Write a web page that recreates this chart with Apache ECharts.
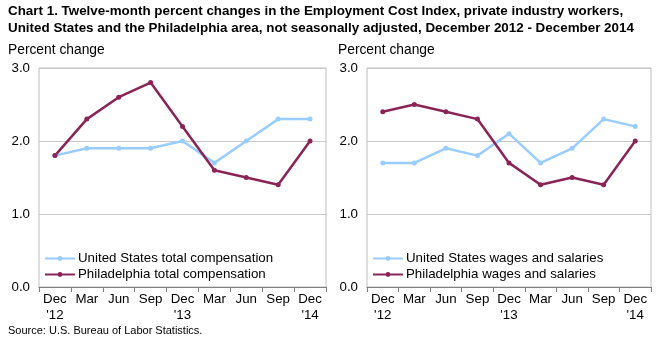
<!DOCTYPE html>
<html><head><meta charset="utf-8">
<script src="https://cdn.jsdelivr.net/npm/echarts@6/dist/echarts.min.js"></script>
<style>html,body{margin:0;padding:0;background:#fff}#c{width:656px;height:344px}</style>
</head><body><div id="c"></div>
<script>
const categories = ["Dec\n'12","Mar","Jun","Sep","Dec\n'13","Mar","Jun","Sep","Dec\n'14"];
const usTotal = [1.8,1.9,1.9,1.9,2.0,1.7,2.0,2.3,2.3];
const phTotal = [1.8,2.3,2.6,2.8,2.2,1.6,1.5,1.4,2.0];
const usWages = [1.7,1.7,1.9,1.8,2.1,1.7,1.9,2.3,2.2];
const phWages = [2.4,2.5,2.4,2.3,1.7,1.4,1.5,1.4,2.0];
const yTicks = [0,1,2,3];

const BLUE = '#99CCFF', MAROON = '#8B2456';
const font = 'Arial, "Liberation Sans", sans-serif';
const FS = 13.3;
const chart = echarts.init(document.getElementById('c'));

function xAxis(i){return {type:'category',gridIndex:i,data:categories,boundaryGap:true,
  axisLine:{lineStyle:{color:'#7F7F7F',width:1}},
  axisTick:{show:true,alignWithLabel:false,length:5,lineStyle:{color:'#7F7F7F'}},
  axisLabel:{interval:0,color:'#000',fontSize:FS,fontFamily:font,lineHeight:16,margin:4}};}
function yAxis(i){return {type:'value',gridIndex:i,min:0,max:3,interval:1,
  axisLine:{show:false},axisTick:{show:false},
  axisLabel:{color:'#000',fontSize:FS,fontFamily:font,margin:9,formatter:v=>v.toFixed(1)},
  splitLine:{lineStyle:{color:'#C8C8C8',width:1}}};}
function line(name,data,color,i){return {name,type:'line',xAxisIndex:i,yAxisIndex:i,data,
  symbol:'circle',symbolSize:5,lineStyle:{color,width:2.5},itemStyle:{color},animation:false};}

const legendText = {fontSize:FS,fontFamily:font,color:'#000',padding:[0,0,0,-2]};
chart.setOption({
  animation:false,
  grid:[{left:39,right:330,top:68,height:219,show:true,borderColor:'#BFBFBF',borderWidth:1},
        {left:367,right:5,top:68,height:219,show:true,borderColor:'#BFBFBF',borderWidth:1}],
  xAxis:[xAxis(0),xAxis(1)],
  yAxis:[yAxis(0),yAxis(1)],
  legend:[
    {orient:'vertical',left:39,top:247,itemWidth:30,itemHeight:6,itemGap:3,textStyle:legendText,
     data:['United States total compensation','Philadelphia total compensation']},
    {orient:'vertical',left:367,top:247,itemWidth:30,itemHeight:6,itemGap:3,textStyle:legendText,
     data:['United States wages and salaries','Philadelphia wages and salaries']}
  ],
  series:[
    line('United States total compensation',usTotal,BLUE,0),
    line('Philadelphia total compensation',phTotal,MAROON,0),
    line('United States wages and salaries',usWages,BLUE,1),
    line('Philadelphia wages and salaries',phWages,MAROON,1)
  ],
  graphic:[
    {type:'text',left:8,top:3,style:{text:'Chart 1. Twelve-month percent changes in the Employment Cost Index, private industry workers,\nUnited States and the Philadelphia area, not seasonally adjusted, December 2012 - December 2014',
      font:'bold 13.4px '+font,fill:'#000',lineHeight:17}},
    {type:'text',left:8,top:43,style:{text:'Percent change',font:'13.8px '+font,fill:'#000'}},
    {type:'text',left:338,top:43,style:{text:'Percent change',font:'13.8px '+font,fill:'#000'}},
    {type:'text',left:8,top:325,style:{text:'Source: U.S. Bureau of Labor Statistics.',font:'11px '+font,fill:'#000'}}
  ]
});
</script></body></html>
